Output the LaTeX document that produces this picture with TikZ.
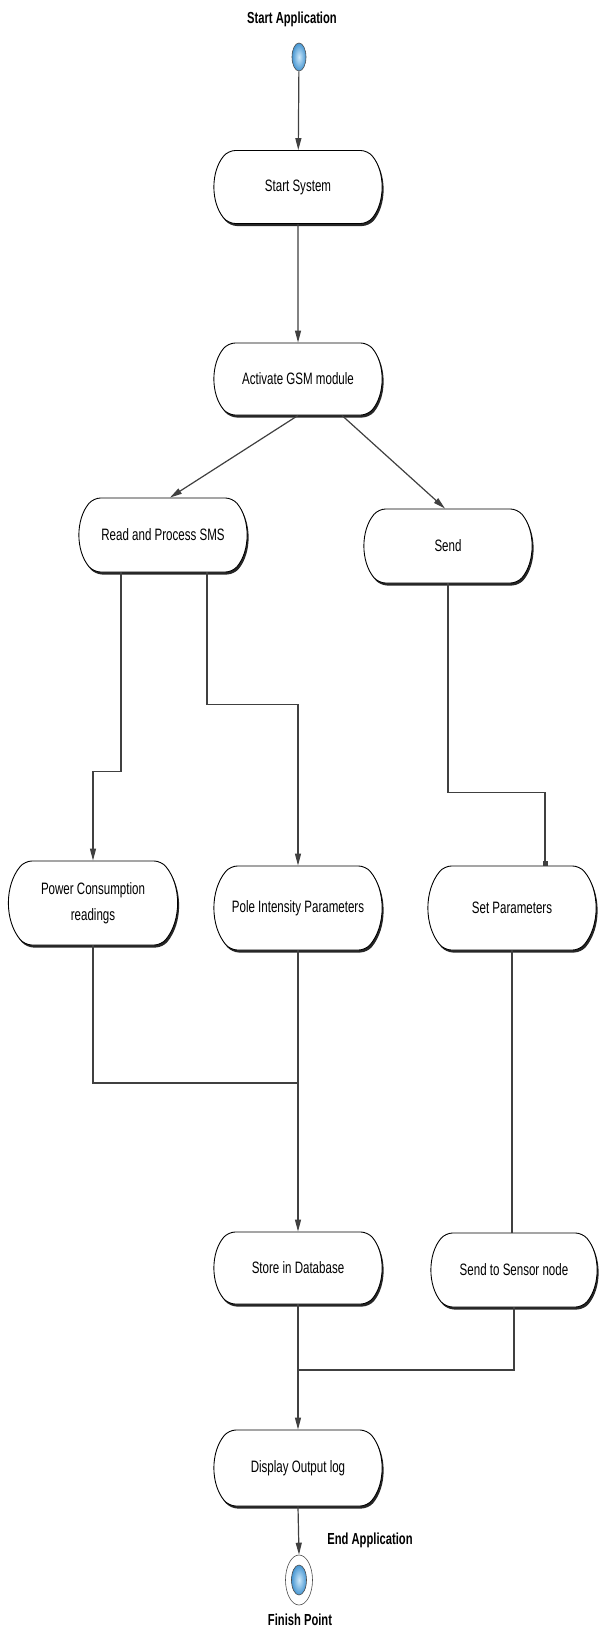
\documentclass[tikz,border=0pt]{standalone}
\usepackage{fontspec}
\newfontfamily\cond[FakeStretch=0.7]{Liberation Sans}
\usetikzlibrary{shapes.misc,shapes.geometric,arrows.meta,shadows,calc}
\definecolor{blueout}{RGB}{70,150,210}
\definecolor{bluein}{RGB}{205,232,250}
\begin{document}
\begin{tikzpicture}[x=1pt,y=-1pt,
  act/.style={rounded rectangle, rounded rectangle arc length=80, rounded corners=7pt, draw=black, line width=0.9pt,
    fill=white, minimum width=170pt, minimum height=73pt, inner sep=2pt, align=center,
    font=\cond\fontsize{16.5}{20}\selectfont,
    drop shadow={shadow xshift=1.5pt, shadow yshift=-2.5pt, fill=black, opacity=0.85}},
  lbl/.style={font=\cond\bfseries\fontsize{16}{20}\selectfont},
  dot/.style={ellipse, inner sep=0pt, draw=black!70, line width=0.6pt, inner color=bluein, outer color=blueout},
  conn/.style={draw=black!75, line width=1.2pt, sharp corners},
  arr/.style={conn, -{Triangle[length=12pt,width=6pt]}},
]
\useasboundingbox (0,0) rectangle (598,1631);
\fill[white] (0,0) rectangle (598,1631);

\node[lbl] (lstart) at (292,19) {Start Application};
\node[dot, minimum width=14pt, minimum height=28pt] (start) at (299,57) {};
\node[act] (ss) at (298,187) {Start System};
\node[act, minimum height=72pt] (gsm) at (298,379) {Activate GSM module};
\node[act, minimum height=74pt] (rsms) at (163,535) {Read and Process SMS};
\node[act, minimum height=74pt] (send) at (448,546) {Send};
\node[act, minimum width=171pt, minimum height=84pt] (pc) at (93,903) {Power Consumption\\[6pt]readings};
\node[act, minimum height=84pt] (pole) at (298,908) {Pole Intensity Parameters};
\node[act, minimum height=84pt] (set) at (512,908) {Set Parameters};
\node[act, minimum height=72pt] (store) at (298,1268) {Store in Database};
\node[act, minimum width=168pt, minimum height=74pt] (sensor) at (514,1270) {Send to Sensor node};
\node[act, minimum height=76pt] (disp) at (298,1468) {Display Output log};
\node[lbl] (lend) at (370,1540) {End Application};
\node[ellipse, draw=black!70, fill=white, line width=0.6pt, minimum width=27pt, minimum height=50pt, inner sep=0pt] (finish) at (299,1580) {};
\node[dot, minimum width=15pt, minimum height=30pt] (finin) at (finish.center) {};
\node[lbl] (lfin) at (300,1620) {Finish Point};

\draw[arr] (start) -- (ss);
\draw[arr] (ss) -- (gsm);
\draw[arr] (gsm.south) -- ([xshift=7pt]rsms.north);
\draw[arr] ([xshift=44pt]gsm.south) -- ([xshift=-3pt]send.north);
\draw[arr] ([xshift=-42pt]rsms.south) -- ++(0,199) -| (pc.north);
\draw[arr] ([xshift=44pt]rsms.south) -- ++(0,132) -| (pole.north);
\draw[conn, -{Square[length=5pt,width=5pt]}] (send.south) -- ++(0,209) -| ([xshift=33pt]set.north);
\coordinate (m1) at (298,1083);
\draw[conn] (pc.south) |- (m1);
\draw[arr] (pole.south) -- (store.north);
\draw[conn] (set.south) -- (set.south |- sensor.north);
\coordinate (m2) at (298,1370);
\draw[conn] (sensor.south) |- (m2);
\draw[arr] (store.south) -- (disp.north);
\draw[arr] (disp.south) -- (finish.north);
\end{tikzpicture}
\end{document}
